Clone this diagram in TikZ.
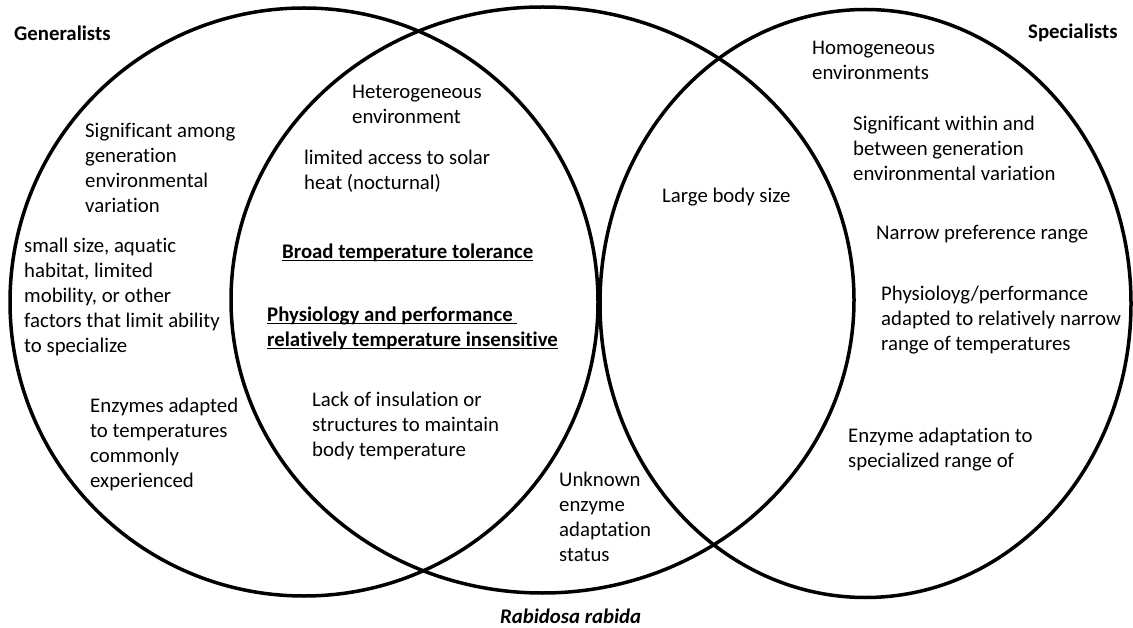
\documentclass[tikz,border=0pt]{standalone}
\usepackage{fontspec}
\setmainfont{Carlito}[Ligatures={NoCommon,NoContextual}]
\newcommand\bodyfont{\fontsize{20.8}{25}\selectfont}
\newsavebox\ulbox
\newcommand\myul[1]{\sbox\ulbox{#1}\rlap{\rule[-2.6pt]{\wd\ulbox}{1.6pt}}\usebox\ulbox}
\begin{document}
\begin{tikzpicture}[x=1pt,y=-1pt,
  ring/.style={draw=black, line width=3.5pt},
  txt/.style={anchor=north west, align=left, inner sep=0pt, font=\bodyfont, text=black}]
\useasboundingbox (0,0) rectangle (1133,628);
\fill[white] (0,0) rectangle (1133,628);
% the three sets
\draw[ring] (304,302) circle [radius=294];
\draw[ring] (542.5,300) ellipse [x radius=311.5, y radius=293];
\draw[ring] (865.5,303.5) ellipse [x radius=265.5, y radius=294];
% titles
\node[txt] (gen) at (14,22.5) {\strut\textbf{Generalists}};
\node[txt] (spec) at (1028,20.5) {\strut\textbf{Specialists}};
\node[txt] (rab) at (500,606) {\strut\textbf{\textit{Rabidosa rabida}}};
% generalists only
\node[txt] (g1) at (85,119.5) {\strut Significant among\\generation\\environmental\\variation};
\node[txt] (g2) at (24,235) {\strut small size, aquatic\\habitat, limited\\mobility, or other\\factors that limit ability\\to specialize};
\node[txt] (g3) at (90,395) {\strut Enzymes adapted\\to temperatures\\commonly\\experienced};
% generalists and Rabidosa
\node[txt] (m1) at (352,81) {\strut Heterogeneous\\environment};
\node[txt] (m2) at (304,146.8) {\strut limited access to solar\\heat (nocturnal)};
\node[txt] (m3) at (282,241) {\strut\textbf{\myul{Broad temperature tolerance}}};
\node[txt] (m4) at (267,304) {\strut\textbf{\myul{Physiology and performance\ }}\\\textbf{\myul{relatively temperature insensitive}}};
\node[txt] (m5) at (312,388.5) {\strut Lack of insulation or\\structures to maintain\\body temperature};
% Rabidosa only
\node[txt] (r1) at (559,469) {\strut Unknown\\enzyme\\adaptation\\status};
% Rabidosa and specialists
\node[txt] (r2) at (662,184.5) {\strut Large body size};
% specialists only
\node[txt] (s1) at (812,36.5) {\strut Homogeneous\\environments};
\node[txt] (s2) at (853,112.5) {\strut Significant within and\\between generation\\environmental variation};
\node[txt] (s3) at (876,222) {\strut Narrow preference range};
\node[txt] (s4) at (881,283) {\strut Physioloyg/performance\\adapted to relatively narrow\\range of temperatures};
\node[txt] (s5) at (848,424.5) {\strut Enzyme adaptation to\\specialized range of};
\end{tikzpicture}
\end{document}
